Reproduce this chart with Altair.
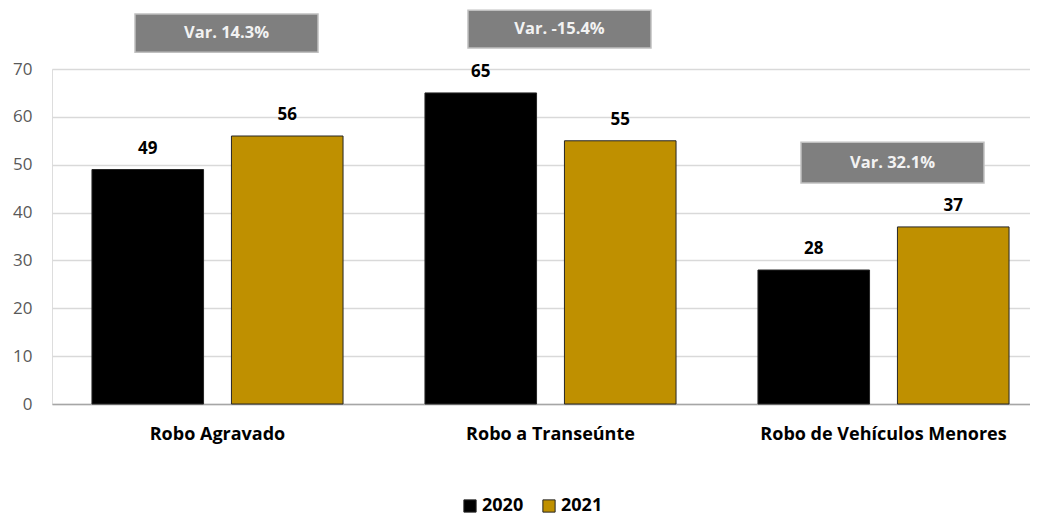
import altair as alt
import pandas as pd

categories = ["Robo Agravado", "Robo a Transeúnte", "Robo de Vehículos Menores"]
years = ["2020", "2021"]
values_2020 = [49, 65, 28]
values_2021 = [56, 55, 37]
var_labels = ["Var. 14.3%", "Var. -15.4%", "Var. 32.1%"]
box_low = [73.5, 74.4, 46.2]
box_high = [81.5, 82.3, 54.7]

rows = []
for c, a, b in zip(categories, values_2020, values_2021):
    rows.append({"cat": c, "year": "2020", "value": a})
    rows.append({"cat": c, "year": "2021", "value": b})
df = pd.DataFrame(rows)

boxes = pd.DataFrame({
    "cat": categories,
    "label": var_labels,
    "low": box_low,
    "high": box_high,
})
boxes["mid"] = (boxes["low"] + boxes["high"]) / 2

FONT = "Open Sans"

xscale = alt.Scale(domain=categories, range=[0, 997], paddingInner=0.246, paddingOuter=0.12)
yscale = alt.Scale(domain=[0, 70], nice=False)

x = alt.X("cat:N", scale=xscale, sort=categories, title=None,
          axis=alt.Axis(labelAngle=0, labelFontSize=18, labelFontWeight="bold", labelColor="#000000",
                        labelFont=FONT, ticks=False, domainColor="#a6a6a6", domainWidth=1.5,
                        labelPadding=21, labelLimit=0))

bars = alt.Chart(df).mark_bar(stroke="#262626", strokeWidth=1).encode(
    x=x,
    xOffset=alt.XOffset("year:N", scale=alt.Scale(domain=years, paddingInner=0.2, paddingOuter=0)),
    y=alt.Y("value:Q", scale=yscale, title=None,
            axis=alt.Axis(values=[0, 10, 20, 30, 40, 50, 60, 70], ticks=False, domain=False,
                          gridColor="#d9d9d9", gridWidth=1.5, labelColor="#595959",
                          labelFontSize=17, labelFont=FONT, labelPadding=20)),
    color=alt.Color("year:N", scale=alt.Scale(domain=years, range=["#000000", "#BF9000"]),
                    legend=alt.Legend(title=None, orient="none", direction="horizontal",
                                      legendX=409, legendY=428, symbolType="square",
                                      symbolSize=150, symbolStrokeColor="#262626",
                                      symbolStrokeWidth=1, labelFontSize=18,
                                      labelFontWeight="bold", labelColor="#000000",
                                      labelFont=FONT, columnPadding=16, labelOffset=3)),
)

labels = alt.Chart(df).mark_text(baseline="bottom", dy=-12, fontSize=17, fontWeight="bold",
                                 font=FONT, color="#000000").encode(
    x=alt.X("cat:N", scale=xscale, sort=categories),
    xOffset=alt.XOffset("year:N", scale=alt.Scale(domain=years, paddingInner=0.2, paddingOuter=0)),
    y=alt.Y("value:Q", scale=yscale),
    text="value:Q",
)

box = alt.Chart(boxes).mark_bar(width=183, xOffset=9, color="#7f7f7f", stroke="#c0c0c0",
                                strokeWidth=1.5).encode(
    x=alt.X("cat:N", scale=xscale, sort=categories),
    y=alt.Y("low:Q", scale=yscale),
    y2="high:Q",
)

box_text = alt.Chart(boxes).mark_text(xOffset=9, baseline="middle", fontSize=16.5, fontWeight="bold",
                                      font=FONT, color="#f2f2f2").encode(
    x=alt.X("cat:N", scale=xscale, sort=categories),
    y=alt.Y("mid:Q", scale=yscale),
    text="label:N",
)

chart = alt.layer(bars, labels, box, box_text).properties(
    width=978, height=335,
    autosize=alt.AutoSizeParams(type="none"),
    padding={"left": 44, "top": 61, "right": 0, "bottom": 112},
).configure_view(stroke=None).configure(background="#ffffff")

chart.save("out.html", embed_options={"renderer": "svg", "actions": False})
